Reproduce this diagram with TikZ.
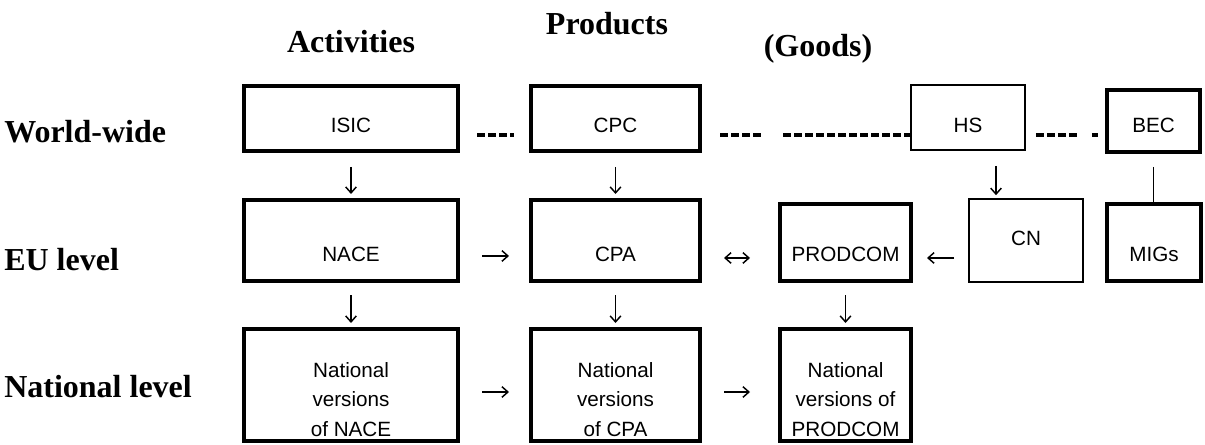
\documentclass[tikz,border=0pt]{standalone}
\usepackage{fontspec}
\setmainfont{Liberation Serif}
\newfontfamily\arialf{Liberation Sans}
\usetikzlibrary{arrows.meta,calc,fit}
\begin{document}
\begin{tikzpicture}[x=0.75pt,y=-0.75pt,
  thickbox/.style={draw,line width=3pt,inner sep=0pt},
  thinbox/.style={draw,line width=1.2pt,inner sep=0pt},
  btext/.style={font=\arialf\fontsize{15.5}{22}\selectfont,align=center,anchor=base,inner sep=0pt},
  lbl/.style={font=\bfseries\fontsize{24}{28}\selectfont,inner sep=0pt},
  conn/.style={line width=1.1pt},
  tip/.style={-{Straight Barb[length=4.5pt,width=8pt]}},
  dtip/.style={{Straight Barb[length=4.5pt,width=8pt]}-{Straight Barb[length=4.5pt,width=8pt]}},
  dashln/.style={line width=2.6pt}
]
\useasboundingbox (0,0) rectangle (1205,445);

% row labels and column headers
\node[lbl,anchor=base west] (ww) at (4,143) {World-wide};
\node[lbl,anchor=base west] (eu) at (4,270) {EU level};
\node[lbl,anchor=base west] (nat) at (4,397) {National level};
\node[lbl,anchor=base] (act) at (351,53) {Activities};
\node[lbl,anchor=base] (prod) at (607,35) {Products};
\node[lbl,anchor=base] (goods) at (818,57) {(Goods)};

% world-wide row
\node[thickbox,fit={(244,86)(458,151)}] (isic) {};
\node[btext] (isict) at (351,133) {ISIC};
\node[thickbox,fit={(531,86)(700,151)}] (cpc) {};
\node[btext] (cpct) at (615.5,133) {CPC};
\node[thinbox,fit={(911,85)(1025,150)}] (hs) {};
\node[btext] (hst) at (968,133) {HS};
\node[thickbox,fit={(1107,90)(1200,152)}] (bec) {};
\node[btext] (bect) at (1153.5,133) {BEC};

% EU row
\node[thickbox,fit={(244,200)(458,281)}] (nace) {};
\node[btext] (nacet) at (351,262) {NACE};
\node[thickbox,fit={(531,200)(700,281)}] (cpa) {};
\node[btext] (cpat) at (615.5,262) {CPA};
\node[thickbox,fit={(780,204)(911,281)}] (prodcom) {};
\node[btext] (prodcomt) at (845.5,262) {PRODCOM};
\node[thinbox,fit={(969,199)(1083,282)}] (cn) {};
\node[btext] (cnt) at (1026,245) {CN};
\node[thickbox,fit={(1107,204)(1201,281)}] (migs) {};
\node[btext] (migst) at (1154,262) {MIGs};

% national row (base anchor = last line)
\node[thickbox,fit={(244,329)(458,441)}] (nnace) {};
\node[btext] (nnacet) at (351,436) {National\\versions\\of NACE};
\node[thickbox,fit={(531,329)(700,441)}] (ncpa) {};
\node[btext] (ncpat) at (615.5,436) {National\\versions\\of CPA};
\node[thickbox,fit={(780,329)(911,441)}] (nprod) {};
\node[btext] (nprodt) at (845.5,436) {National\\versions of\\PRODCOM};

% dashed links (world-wide)
\draw[dashln,dash pattern=on 6pt off 2.25pt,shorten <=12.75pt,shorten >=11.25pt]
  ([yshift=-12.4pt]isic.east) -- ([yshift=-12.4pt]cpc.west);
\coordinate (d1) at ([yshift=-12.4pt]cpc.east);
\draw[dashln,shorten <=13.5pt,
  dash pattern=on 6pt off 2.25pt on 6pt off 2.25pt on 6pt off 2.25pt on 6pt off 16.5pt
  on 6pt off 2.25pt on 6pt off 2.25pt on 6pt off 2.25pt on 6pt off 2.25pt
  on 6pt off 2.25pt on 6pt off 2.25pt on 6pt off 2.25pt on 6pt off 2.25pt
  on 6pt off 2.25pt on 6pt off 2.25pt on 6pt off 2.25pt on 8pt off 2.25pt]
  (d1) -- (d1 -| hs.west);
\coordinate (d2) at ([yshift=-13.1pt]hs.east);
\draw[dashln,shorten <=7.5pt,shorten >=5.25pt,
  dash pattern=on 6pt off 2.25pt on 6pt off 2.25pt on 6pt off 2.25pt on 6pt off 11.25pt on 8pt off 2pt]
  (d2) -- (d2 -| bec.west);

% vertical arrows world-wide -> EU
\draw[conn,tip,shorten <=10.5pt,shorten >=3pt] (isic) -- (nace);
\draw[conn,tip,shorten <=10.5pt,shorten >=3pt] (cpc) -- (cpa);
\coordinate (hsx) at ([xshift=21pt]hs.south);
\draw[conn,tip,shorten <=11.25pt,shorten >=2.25pt] (hsx) -- (hsx |- cn.north);
\draw[conn,shorten <=9.75pt] (bec.south) -- (bec.south |- migs.north);

% vertical arrows EU -> national
\draw[conn,tip,shorten <=9pt,shorten >=3pt] (nace) -- (nnace);
\draw[conn,tip,shorten <=9pt,shorten >=3pt] (cpa) -- (ncpa);
\draw[conn,tip,shorten <=9pt,shorten >=3pt] (prodcom) -- (nprod);

% horizontal arrows EU row
\draw[conn,tip,shorten <=16.5pt,shorten >=15pt] ([yshift=-11.6pt]nace.east) -- ([yshift=-11.6pt]cpa.west);
\coordinate (c1) at ([yshift=-13.1pt]cpa.east);
\draw[conn,dtip,shorten <=16.5pt,shorten >=21pt] (c1) -- (c1 -| prodcom.west);
\coordinate (c2) at ([yshift=-13.1pt]cn.west);
\draw[conn,tip,shorten <=10.5pt,shorten >=10.5pt] (c2) -- (c2 -| prodcom.east);

% horizontal arrows national row
\draw[conn,tip,shorten <=16.5pt,shorten >=15pt] ([yshift=-5.25pt]nnace.east) -- ([yshift=-5.25pt]ncpa.west);
\draw[conn,tip,shorten <=16.5pt,shorten >=21pt] ([yshift=-5.25pt]ncpa.east) -- ([yshift=-5.25pt]nprod.west);
\end{tikzpicture}
\end{document}
